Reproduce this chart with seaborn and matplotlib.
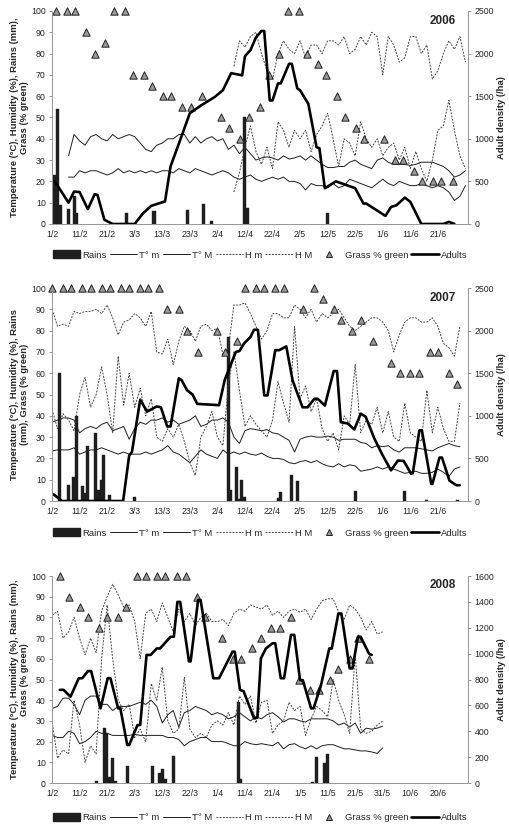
import numpy as np
import seaborn as sns
import matplotlib.pyplot as plt
from matplotlib.lines import Line2D
from matplotlib.patches import Patch

# ---------------- 2006 ----------------
rain06_day = [0, 1, 2, 3, 6, 8, 9, 27, 37, 49, 55, 58, 70, 71, 100]
rain06 = [3, 23, 54, 9, 7, 13, 5, 5, 6, 6.5, 9.5, 1.5, 50, 7.5, 5]

tmin06_start = 6
tmin06 = [22, 22, 25, 24, 25, 25, 24, 23, 24, 26,
          24, 25, 24, 25, 24, 25, 24, 25, 25, 24,
          26, 25, 24, 26, 25, 24, 23, 24, 25, 24,
          22, 21, 22, 23, 21, 20, 21, 22, 21, 22,
          20, 20, 19, 16, 19, 18, 18, 17, 19, 17,
          18, 21, 20, 19, 18, 17, 19, 21, 19, 18,
          20, 19, 18, 18, 19, 18, 17, 18, 17, 15,
          11, 13, 18]
tmax06_start = 6
tmax06 = [32, 42, 39, 37, 41, 42, 40, 39, 42, 40,
          41, 42, 41, 38, 35, 34, 37, 38, 40, 40,
          42, 42, 38, 41, 38, 40, 41, 39, 40, 35,
          37, 33, 36, 33, 30, 31, 31.5, 31, 30, 32,
          30.5, 31, 32, 30, 32, 30, 28, 26.5, 26.5, 27,
          27, 29, 30, 28, 27, 26, 30, 31, 29, 28,
          28, 28, 27.5, 28, 29, 29, 29, 28, 27, 25,
          22, 23, 25]
hmin06_start = 66
hmin06 = [15, 24, 36, 46, 34, 28, 36, 26, 48, 44,
          36, 44, 40, 44, 34, 42, 46, 52, 40, 27,
          40, 38, 32, 48, 40, 36, 40, 32, 36, 38,
          30, 36, 26, 34, 26, 20, 30, 44, 46, 58,
          44, 32, 26]
hmax06_start = 66
hmax06 = [74, 86, 83, 88, 90, 80, 72, 68, 80, 86,
          82, 80, 86, 78, 84, 84, 80, 86, 86, 84,
          88, 80, 82, 88, 84, 90, 88, 70, 88, 84,
          76, 78, 88, 88, 80, 84, 68, 72, 80, 86,
          82, 88, 76]
grass06_day = [1.5, 5.5, 8.5, 12.4, 15.5, 19.4, 22.4, 26.4, 29.3, 33.3,
               36.4, 40.4, 43.3, 47.3, 50.3, 54.3, 61.2, 64.2, 68.1, 71.3,
               75.3, 78.6, 82.4, 85.5, 89.5, 92.4, 96.4, 99.4, 103.4, 106.4,
               110.3, 113.3, 120.4, 124.3, 127.3, 131.3, 134.3, 138.2, 141.2, 145.4]
grass06 = [100, 100, 100, 90, 80, 85, 100, 100, 70, 70,
           65, 60, 60, 55, 55, 60, 50, 45, 40, 50,
           55, 70, 80, 100, 100, 80, 75, 70, 60, 50,
           45, 40, 40, 30, 30, 25, 20, 20, 20, 20]
adult06_day = [1, 6, 8, 10, 13, 15.5, 16.5, 19, 22, 30,
               33, 36, 41, 43, 47, 50, 54, 59, 62, 65,
               69, 70, 72, 74, 76, 77, 79, 80, 82, 83,
               86, 87, 89, 90, 93, 96, 97, 99, 103, 107,
               110, 113, 114, 121, 123, 125, 128, 130, 134, 142,
               144, 146]
adult06 = [500, 250, 380, 375, 175, 350, 340, 50, 0, 0,
           125, 213, 265, 675, 1030, 1300, 1390, 1490, 1570, 1770,
           1745, 1970, 2040, 2190, 2265, 2265, 1450, 1450, 1650, 1650,
           1880, 1880, 1590, 1570, 1410, 900, 890, 420, 500, 455,
           420, 240, 240, 95, 200, 220, 310, 260, 0, 0,
           25, 0]

# ---------------- 2007 ----------------
rain07_day = [2.8, 6, 7.9, 8.8, 10.9, 12.1, 13, 15.8, 16.7, 17.8,
              18.8, 21, 30, 64, 64.8, 67, 67.9, 68.8, 69.7, 82.2,
              83, 86.9, 89, 110, 128, 136, 147]
rain07 = [60, 7.5, 11.5, 40, 7, 4, 26, 32, 5, 10,
          21.5, 3, 2, 77, 5, 16, 1, 10, 2, 1.5,
          4.2, 12, 9.4, 4.7, 4.5, 0.6, 0.6]
tmin07_start = 0
tmin07 = [23.5, 24, 24, 24, 25, 22, 23, 24, 24, 25,
          24, 23, 22, 23, 22, 22, 22, 23, 22, 23,
          24, 26, 23, 22, 20, 18, 21, 24, 22, 21,
          20, 24, 22, 23, 22, 23, 22, 21.5, 22.5, 21,
          20, 20, 19.5, 18, 17.5, 18.5, 19, 18, 19, 17.5,
          16.5, 16, 17.5, 16, 17, 16.5, 14, 14.5, 15, 16,
          15, 16, 15, 14, 13, 13.5, 14, 13, 13, 13.5,
          15, 13.5, 11.5, 15, 16]
tmax07_start = 0
tmax07 = [37, 38, 39, 39, 38, 32, 34, 35, 34, 36,
          37, 33, 34, 35, 29, 34, 37, 36, 38, 38,
          39, 37, 38, 36, 37, 38, 40, 35, 36, 38,
          38, 39, 37, 30, 27, 33, 34, 33.5, 33, 33.5,
          32, 31.5, 30, 28.5, 23, 29, 30, 30.5, 30, 30,
          30.5, 30, 28.5, 29, 29, 29, 27.5, 27, 25, 26,
          25.5, 26, 24, 23, 25, 25, 25, 24.5, 24, 23.5,
          25, 26, 27, 26, 25.5]
hmin07_start = 0
hmin07 = [43, 34, 41, 38, 33, 50, 58, 44, 50, 63,
          50, 32, 68, 45, 60, 44, 53, 40, 48, 30,
          28, 34, 30, 36, 28, 18, 12, 30, 35, 42,
          30, 26, 55, 70, 52, 35, 40, 36, 33, 30,
          38, 56, 46, 37, 82, 48, 54, 42, 48, 34,
          28, 32, 24, 40, 36, 64, 32, 38, 36, 44,
          32, 42, 30, 28, 46, 32, 30, 28, 52, 32,
          44, 34, 28, 28, 46]
hmax07_start = 0
hmax07 = [90, 82, 83, 82, 89, 88, 89, 89, 90, 88,
          92, 86, 78, 84, 85, 88, 86, 82, 89, 70,
          69, 76, 64, 75, 82, 80, 75, 82, 83, 80,
          81, 69, 72, 92, 92, 93, 88, 82, 76, 80,
          88, 88, 86, 86, 92, 90, 86, 90, 84, 88,
          86, 88, 90, 86, 82, 80, 82, 84, 86, 86,
          84, 80, 70, 78, 84, 86, 86, 84, 84, 86,
          82, 74, 72, 68, 82]
grass07_day = [0, 4, 7, 11, 14, 18, 21, 25, 28, 32,
               35, 38.8, 41.8, 46, 49, 53, 60, 62.7, 67, 70,
               74, 77, 81, 84, 91.2, 95.2, 98.2, 102.2, 105, 109,
               112, 116.4, 123, 126.3, 130, 133, 137, 140, 144, 147]
grass07 = [100, 100, 100, 100, 100, 100, 100, 100, 100, 100,
           100, 100, 90, 90, 80, 70, 80, 70, 75, 100,
           100, 100, 100, 100, 90, 100, 95, 90, 85, 80,
           85, 75, 65, 60, 60, 60, 70, 70, 60, 55]
adult07_day = [0.6, 3.6, 25.8, 28, 29, 32, 34.5, 38, 39.5, 41.8,
               43, 46, 47, 49, 51, 52.7, 60.6, 62.7, 66.7, 68,
               69.7, 72, 73.3, 74.7, 77, 78.2, 81, 82.4, 85, 87.3,
               90.9, 92.7, 95.2, 96.4, 99, 102.2, 103.4, 104.8, 107.3, 109.7,
               112, 113.8, 117, 120, 123, 125.5, 127.6, 130.3, 130.9, 133.3,
               134.2, 137.6, 138, 140.6, 141.5, 144.2, 146.7, 147.9]
adult07 = [78, 0, 0, 535, 575, 1190, 1050, 1110, 1100, 875,
           875, 1440, 1420, 1300, 1250, 1140, 1125, 1425, 1750, 1760,
           1850, 1925, 2010, 2010, 1240, 1240, 1770, 1770, 1815, 1415,
           1100, 1100, 1200, 1200, 1120, 1525, 1525, 925, 910, 840,
           1025, 990, 730, 535, 360, 475, 470, 320, 325, 830,
           830, 200, 200, 510, 510, 240, 185, 185]

# ---------------- 2008 ----------------
rain08_day = [16, 19, 19.8, 21, 22, 23, 27.3, 36.4, 39, 40,
              41, 44, 67.5, 68.5, 94.5, 95.8, 98.8, 100]
rain08 = [1, 26.4, 24, 3, 12, 1, 8, 8, 4.7, 7,
          2, 13, 39, 2, 0.6, 12.7, 9.5, 13.8]
tmin08_start = 0
tmin08 = [23, 22, 22, 25, 24, 19, 20, 22, 25, 24,
          24, 23, 23, 23, 23, 23.5, 23, 23, 23, 23,
          23, 22, 22, 21, 18, 20, 21, 22, 22, 20,
          20, 20, 19, 18, 18, 20, 19, 18.5, 19, 18.5,
          18, 19.7, 16.5, 18.5, 19, 17.5, 16.5, 18, 16.5, 18,
          18.5, 18.5, 17.5, 16.5, 16.5, 16, 15.5, 15.5, 15, 14.3,
          17]
tmax08_start = 0
tmax08 = [36, 37, 41, 41, 38, 33, 40, 42, 42, 38,
          38, 35, 37, 37, 37, 38, 39, 38, 40, 37,
          29, 33, 35, 27, 34, 35, 37, 36, 35, 33,
          34, 33, 31, 32, 34, 32, 30, 32, 31, 33,
          34, 32, 29.5, 31, 31, 30, 29.5, 31, 31, 31,
          31, 30, 28, 29, 27, 29, 24, 26.5, 26, 26.5,
          27.5]
hmin08_start = 0
hmin08 = [30, 12, 16, 14, 40, 28, 10, 18, 14, 60,
          86, 60, 40, 35, 38, 22, 26, 20, 48, 40,
          56, 30, 24, 26, 51, 26, 22, 24, 22, 28,
          30, 28, 34, 28, 42, 38, 42, 29, 39, 40,
          24, 28, 30, 39, 35, 37, 23, 31, 37, 35,
          32, 50, 40, 33, 24, 62, 26, 24, 25, 28,
          30]
hmax08_start = 0
hmax08 = [81, 83, 70, 73, 80, 70, 62, 70, 63, 83,
          90, 96, 91, 85, 86, 78, 60, 82, 84, 78,
          87, 80, 73, 84, 78, 82, 76, 80, 82, 78,
          78, 79, 76, 82, 84, 83, 86, 85, 84, 86,
          81, 83, 80, 83, 84, 82.5, 84, 79, 84, 88,
          89, 89, 82.5, 79, 86, 84, 80, 74, 78, 72,
          73]
grass08_day = [3, 6, 10, 13, 17, 20, 24, 27, 31, 34,
               38, 41, 45.5, 48.5, 52.5, 55.4, 61.5, 65.7, 68.5, 72.7,
               75.8, 79.6, 82.7, 86.7, 89.7, 93.7, 97, 100.8, 103.9, 108,
               111, 115]
grass08 = [100, 90, 85, 80, 75, 80, 80, 85, 100, 100,
           100, 100, 100, 100, 90, 80, 70, 60, 60, 65,
           70, 75, 75, 80, 50, 45, 45, 50, 55, 60,
           70, 60]
adult08_day = [2.8, 4.2, 6.7, 9.7, 11, 13, 14.2, 17.6, 20.2, 21.2,
               24, 24.8, 27.3, 28, 31, 32, 34.3, 35.8, 38, 39.2,
               43, 44.2, 45.5, 46.5, 49.7, 50.3, 53, 53.9, 58.5, 60.6,
               65.5, 66.3, 68.2, 69.5, 73.3, 74.5, 75.8, 77.6, 80, 81,
               83, 84.2, 86.7, 87.9, 90, 91, 94, 94.9, 97.6, 100.6,
               101.5, 103.9, 105, 108, 109, 111, 112, 115, 116]
adult08 = [720, 720, 667, 810, 810, 865, 865, 577, 810, 810,
           577, 577, 294, 294, 448, 448, 990, 990, 1040, 1040,
           1130, 1130, 1400, 1400, 940, 940, 1415, 1415, 810, 810,
           1015, 1015, 720, 710, 500, 505, 964, 1040, 1080, 1080,
           810, 810, 1145, 1145, 795, 795, 577, 577, 757, 1040,
           1040, 1310, 1310, 886, 886, 1130, 1130, 1000, 990]

# x tick labels (every 10 days from 1 February)
ticks_0607 = ['1/2', '11/2', '21/2', '3/3', '13/3', '23/3', '2/4', '12/4',
              '22/4', '2/5', '12/5', '22/5', '1/6', '11/6', '21/6']
ticks_08 = ['1/2', '11/2', '21/2', '2/3', '12/3', '22/3', '1/4', '11/4',
            '21/4', '1/5', '11/5', '21/5', '31/5', '10/6', '20/6']

sns.set_style("white")
plt.rcParams['font.family'] = ['Liberation Sans', 'DejaVu Sans']

DARK = '#1e1e1e'
DOT = '#444444'
GRASS = '#9a9a9a'


def series_days(start, values):
    return start + 2 * np.arange(len(values))


def draw_panel(ax, year, rain_d, rain_v, tmin_s, tmin, tmax_s, tmax,
               hmin_s, hmin, hmax_s, hmax, g_d, g_v, a_d, a_v,
               ticklabels, adult_max, adult_step, ylabel):
    ax.bar(rain_d, rain_v, width=1.1, color=DARK, edgecolor=DARK,
           linewidth=0.3, zorder=2)
    sns.lineplot(x=series_days(tmin_s, tmin), y=tmin, ax=ax, color=DARK,
                 linewidth=0.7, estimator=None)
    sns.lineplot(x=series_days(tmax_s, tmax), y=tmax, ax=ax, color=DARK,
                 linewidth=0.7, estimator=None)
    sns.lineplot(x=series_days(hmin_s, hmin), y=hmin, ax=ax, color=DOT,
                 linewidth=0.7, linestyle=(0, (2, 1.3)), estimator=None)
    sns.lineplot(x=series_days(hmax_s, hmax), y=hmax, ax=ax, color=DOT,
                 linewidth=0.7, linestyle=(0, (2, 1.3)), estimator=None)
    sns.scatterplot(x=g_d, y=g_v, ax=ax, marker='^', s=28, color=GRASS,
                    edgecolor='#222222', linewidth=0.7, zorder=4, clip_on=False)

    ax.set_xlim(0, 151)
    ax.set_ylim(0, 100)
    ax.set_yticks(range(0, 101, 10))
    ax.set_xticks(range(0, 141, 10))
    ax.set_xticklabels(ticklabels)
    ax.tick_params(axis='both', labelsize=6.3, length=2.5, width=0.6,
                   color='#888888', pad=2)
    ax.set_ylabel(ylabel, fontsize=6.8, fontweight='bold', labelpad=1.5,
                  linespacing=1.1)
    ax.spines['top'].set_visible(False)
    for side in ['left', 'bottom', 'right']:
        ax.spines[side].set_color('#999999')
        ax.spines[side].set_linewidth(0.7)

    ax2 = ax.twinx()
    sns.lineplot(x=a_d, y=a_v, ax=ax2, color='black', linewidth=1.9,
                 estimator=None)
    ax2.set_ylim(0, adult_max)
    ax2.set_yticks(range(0, adult_max + 1, adult_step))
    ax2.tick_params(axis='y', labelsize=6.3, length=2.5, width=0.6,
                    color='#888888', pad=2)
    ax2.set_ylabel('Adult density (/ha)', fontsize=6.8, fontweight='bold',
                   labelpad=2)
    ax2.spines['top'].set_visible(False)
    for side in ['left', 'bottom', 'right']:
        ax2.spines[side].set_color('#999999')
        ax2.spines[side].set_linewidth(0.7)
    ax2.text(0.97, 0.955, year, transform=ax2.transAxes, ha='right',
             va='center', fontsize=8.5, fontweight='bold')
    return ax2


def add_legend(fig, ypos):
    handles = [
        Patch(facecolor=DARK, edgecolor=DARK),
        Line2D([], [], color=DARK, linewidth=0.7),
        Line2D([], [], color=DARK, linewidth=0.7),
        Line2D([], [], color=DOT, linewidth=0.7, linestyle=(0, (2, 1.3))),
        Line2D([], [], color=DOT, linewidth=0.7, linestyle=(0, (2, 1.3))),
        Line2D([], [], color=GRASS, marker='^', markersize=5,
               markeredgecolor='#222222', markeredgewidth=0.7, linestyle='none'),
        Line2D([], [], color='black', linewidth=1.9),
    ]
    labels = ['Rains', 'T\u00b0 m', 'T\u00b0 M', 'H m', 'H M',
              'Grass % green', 'Adults']
    fig.legend(handles, labels, loc='center', bbox_to_anchor=(0.51, ypos),
               ncol=7, frameon=False, fontsize=6.8, handlelength=2.9,
               handletextpad=0.2, columnspacing=0.35, handleheight=0.9,
               borderaxespad=0, borderpad=0)


fig = plt.figure(figsize=(5.1, 8.25), dpi=100)
ax1 = fig.add_axes([0.102, 0.7285, 0.816, 0.2582])
ax2 = fig.add_axes([0.102, 0.3927, 0.816, 0.2582])
ax3 = fig.add_axes([0.102, 0.0509, 0.816, 0.2509])

lab_a = 'Temperature (\u00b0C), Humidity (%), Rains (mm),\nGrass (% green)'
lab_b = 'Temperature (\u00b0C), Humidity (%), Rains\n(mm), Grass (% green)'

draw_panel(ax1, '2006', rain06_day, rain06, tmin06_start, tmin06,
           tmax06_start, tmax06, hmin06_start, hmin06, hmax06_start, hmax06,
           grass06_day, grass06, adult06_day, adult06, ticks_0607, 2500, 500, lab_a)
draw_panel(ax2, '2007', rain07_day, rain07, tmin07_start, tmin07,
           tmax07_start, tmax07, hmin07_start, hmin07, hmax07_start, hmax07,
           grass07_day, grass07, adult07_day, adult07, ticks_0607, 2500, 500, lab_b)
draw_panel(ax3, '2008', rain08_day, rain08, tmin08_start, tmin08,
           tmax08_start, tmax08, hmin08_start, hmin08, hmax08_start, hmax08,
           grass08_day, grass08, adult08_day, adult08, ticks_08, 1600, 200, lab_a)

add_legend(fig, 0.691)
add_legend(fig, 0.354)
add_legend(fig, 0.009)

fig.savefig('out.png', dpi=100)
